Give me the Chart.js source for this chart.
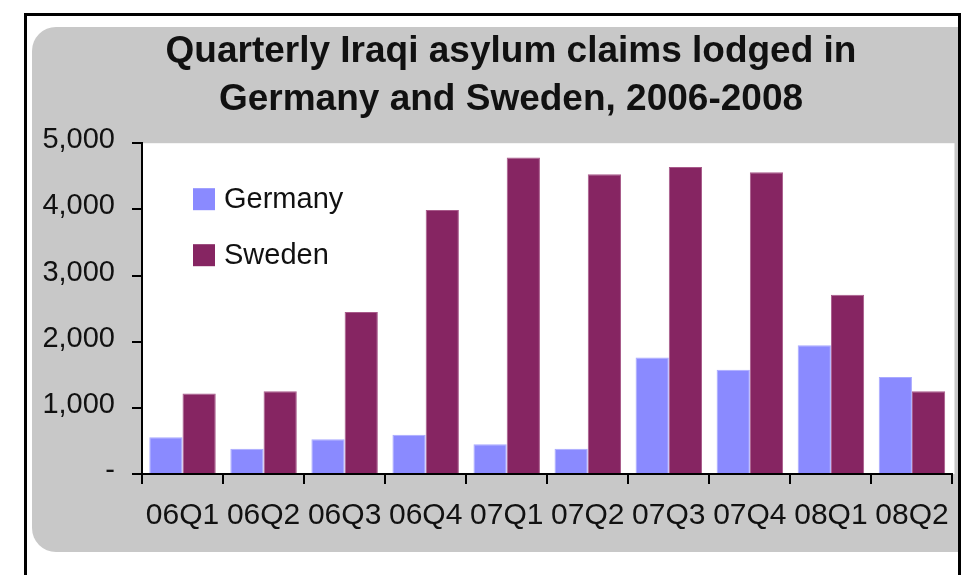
<!DOCTYPE html>
<html>
<head>
<meta charset="utf-8">
<title>Quarterly Iraqi asylum claims</title>
<script src="https://cdn.jsdelivr.net/npm/chart.js@4.4.1/dist/chart.umd.min.js"></script>
<style>
  html, body { margin: 0; padding: 0; background: #fff; }
  #wrap { width: 963px; height: 575px; }
</style>
</head>
<body>
<div id="wrap"><canvas id="asylumChart" width="963" height="575"></canvas></div>
<script>
// data
const quarters = ['06Q1', '06Q2', '06Q3', '06Q4', '07Q1', '07Q2', '07Q3', '07Q4', '08Q1', '08Q2'];
const germanyClaims = [555, 380, 525, 595, 450, 380, 1760, 1575, 1945, 1465];
const swedenClaims = [1215, 1250, 2450, 3990, 4785, 4530, 4640, 4560, 2710, 1250];
const yTicks = [0, 1000, 2000, 3000, 4000, 5000];

const FONT = '"Liberation Sans", Arial, sans-serif';
const TEXT = '#111';

// grey rounded panel, white plot area and the black frame
const framePlugin = {
    id: 'frame',
    afterLayout(chart) {
        // title sits a bit right of the canvas centre
        chart.titleBlock.left = 66;
        chart.titleBlock.right = 956;
    },
    beforeDraw(chart) {
        const ctx = chart.ctx;
        const a = chart.chartArea;
        ctx.save();
        ctx.fillStyle = '#fff';
        ctx.fillRect(0, 0, chart.width, chart.height);

        ctx.fillStyle = '#c8c8c8';
        ctx.beginPath();
        ctx.roundRect(32, 27, 926, 525, [24, 0, 0, 24]);
        ctx.fill();

        ctx.fillStyle = '#fff';
        ctx.fillRect(a.left, a.top, a.right - a.left + 2, a.bottom - a.top);

        ctx.strokeStyle = '#000';
        ctx.lineWidth = 3;
        ctx.beginPath();
        ctx.moveTo(25.5, 580);
        ctx.lineTo(25.5, 14.5);
        ctx.lineTo(959.5, 14.5);
        ctx.lineTo(959.5, 580);
        ctx.stroke();
        ctx.restore();
    }
};

// legend drawn inside the plot area
const insideLegend = {
    id: 'insideLegend',
    afterDatasetsDraw(chart) {
        const ctx = chart.ctx;
        const a = chart.chartArea;
        ctx.save();
        ctx.font = '29px ' + FONT;
        ctx.textBaseline = 'middle';
        chart.data.datasets.forEach((ds, i) => {
            const x = a.left + 51;
            const y = a.top + 45 + i * 56;
            ctx.fillStyle = ds.backgroundColor;
            ctx.fillRect(x, y, 22, 22);
            ctx.fillStyle = TEXT;
            ctx.fillText(ds.label, x + 31, y + 12);
        });
        ctx.restore();
    }
};

const ctx = document.getElementById('asylumChart').getContext('2d');
const asylumChart = new Chart(ctx, {
    type: 'bar',
    data: {
        labels: quarters,
        datasets: [
            {
                label: 'Germany',
                data: germanyClaims,
                backgroundColor: '#8a8aff',
                borderColor: '#a9a9ff',
                borderWidth: 1
            },
            {
                label: 'Sweden',
                data: swedenClaims,
                backgroundColor: '#862562',
                borderColor: '#a85a8a',
                borderWidth: 1
            }
        ]
    },
    options: {
        responsive: false,
        animation: false,
        layout: { padding: { left: 0, right: 7, top: 0, bottom: 0 } },
        datasets: {
            bar: { categoryPercentage: 0.82, barPercentage: 1 }
        },
        plugins: {
            legend: { display: false },
            tooltip: { enabled: false },
            title: {
                display: true,
                text: ['Quarterly Iraqi asylum claims lodged in', 'Germany and Sweden, 2006-2008'],
                color: TEXT,
                font: { family: FONT, size: 37, weight: 'bold', lineHeight: 1.3 },
                padding: { top: 28, bottom: 19 }
            }
        },
        scales: {
            x: {
                afterFit(scale) { scale.height = 101; },
                border: { color: '#000', width: 2 },
                grid: { drawOnChartArea: false, drawTicks: true, tickLength: 10, color: '#000', lineWidth: 2 },
                ticks: { color: TEXT, font: { family: FONT, size: 30 }, padding: 14, maxRotation: 0, autoSkip: false }
            },
            y: {
                min: 0,
                max: 5000,
                afterFit(scale) { scale.width = 142; },
                afterBuildTicks(scale) { scale.ticks = yTicks.map(v => ({ value: v })); },
                border: { color: '#000', width: 2 },
                grid: { drawOnChartArea: false, drawTicks: true, tickLength: 10, color: '#000', lineWidth: 2 },
                ticks: {
                    color: TEXT,
                    font: { family: FONT, size: 29 },
                    padding: 17,
                    labelOffset: -3,
                    callback: v => v === 0 ? '-' : v.toLocaleString('en-US')
                }
            }
        }
    },
    plugins: [framePlugin, insideLegend]
});
</script>
</body>
</html>
